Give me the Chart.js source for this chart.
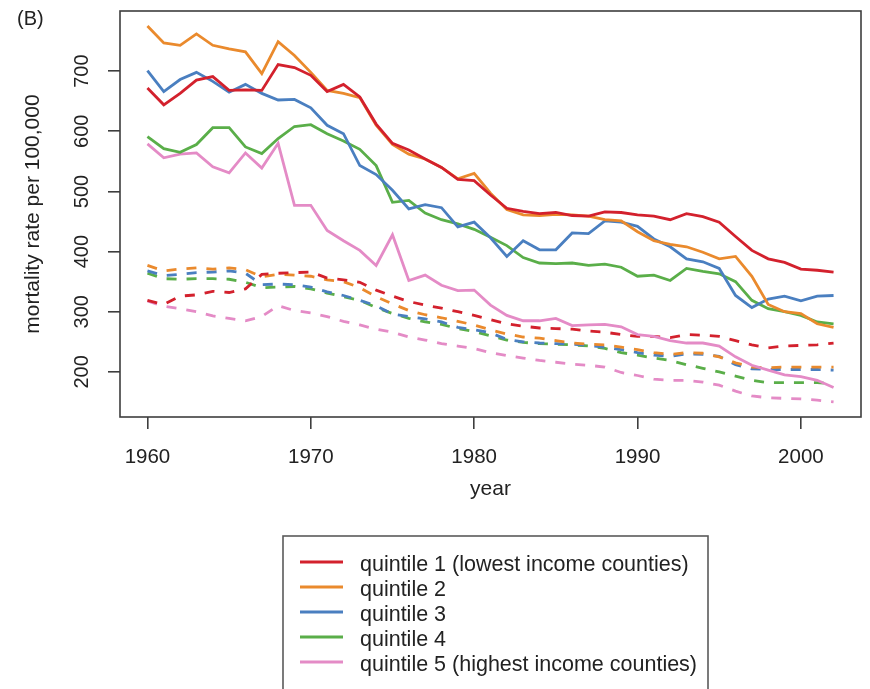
<!DOCTYPE html>
<html>
<head>
<meta charset="utf-8">
<script src="https://cdn.jsdelivr.net/npm/chart.js@4.4.1/dist/chart.umd.min.js"></script>
<style>
  html, body { margin: 0; padding: 0; background: #ffffff; }
  #wrap { width: 870px; height: 689px; position: relative; }
</style>
</head>
<body>
<div id="wrap"><canvas id="chart" width="870" height="689"></canvas></div>
<script>
// Years on the horizontal axis
const years = [1960, 1961, 1962, 1963, 1964, 1965, 1966, 1967, 1968, 1969,
               1970, 1971, 1972, 1973, 1974, 1975, 1976, 1977, 1978, 1979,
               1980, 1981, 1982, 1983, 1984, 1985, 1986, 1987, 1988, 1989,
               1990, 1991, 1992, 1993, 1994, 1995, 1996, 1997, 1998, 1999,
               2000, 2001, 2002];

// Solid lines: mortality rate per 100,000 by county income quintile
const q1Solid = [672, 644, 663, 685, 691, 668, 669, 668, 711, 706,
                 693, 666, 678, 657, 612, 580, 569, 554, 540, 520,
                 518, 494, 472, 467, 463, 465, 460, 459, 466, 465,
                 461, 459, 453, 463, 458, 449, 425, 402, 388, 382,
                 371, 369, 366];
const q2Solid = [775, 747, 743, 762, 743, 737, 732, 696, 749, 726,
                 698, 668, 663, 656, 610, 578, 562, 554, 540, 521,
                 530, 497, 470, 461, 460, 462, 461, 459, 453, 451,
                 433, 418, 412, 408, 399, 388, 392, 359, 312, 300,
                 297, 280, 274];
const q3Solid = [701, 666, 686, 698, 683, 665, 678, 663, 652, 653,
                 639, 610, 596, 543, 528, 502, 471, 478, 473, 441,
                 449, 423, 392, 418, 403, 403, 431, 430, 451, 449,
                 442, 421, 408, 388, 383, 372, 327, 307, 321, 326,
                 318, 326, 327];
const q4Solid = [591, 571, 565, 578, 606, 606, 574, 563, 588, 608,
                 611, 596, 584, 570, 543, 482, 485, 464, 453, 446,
                 437, 424, 410, 390, 381, 380, 381, 377, 379, 374,
                 359, 361, 352, 372, 367, 363, 350, 319, 305, 300,
                 294, 283, 280];
const q5Solid = [579, 556, 562, 564, 541, 531, 564, 539, 580, 477,
                 477, 435, 418, 402, 377, 428, 352, 361, 344, 335,
                 336, 311, 294, 285, 285, 289, 277, 278, 279, 275,
                 262, 259, 252, 248, 248, 243, 225, 211, 203, 195,
                 192, 186, 174];

// Dashed lines: second rate series for the same quintiles
const q1Dashed = [319, 312, 326, 328, 334, 332, 338, 362, 364, 365,
                  366, 356, 353, 349, 336, 326, 317, 311, 306, 300,
                  294, 287, 280, 276, 273, 272, 271, 268, 266, 262,
                  259, 259, 257, 262, 261, 259, 252, 245, 240, 243,
                  244, 245, 248];
const q2Dashed = [377, 368, 371, 373, 371, 373, 370, 358, 362, 361,
                  359, 353, 350, 340, 325, 313, 302, 295, 290, 284,
                  278, 270, 263, 258, 256, 252, 248, 246, 245, 241,
                  237, 232, 229, 232, 231, 225, 215, 208, 207, 208,
                  208, 208, 208];
const q3Dashed = [368, 360, 362, 365, 366, 368, 364, 345, 346, 345,
                  341, 333, 327, 319, 310, 296, 292, 288, 283, 274,
                  270, 265, 254, 250, 248, 247, 246, 244, 241, 237,
                  232, 228, 226, 230, 229, 226, 212, 205, 204, 204,
                  204, 204, 203];
const q4Dashed = [364, 355, 354, 355, 355, 354, 349, 340, 341, 342,
                  338, 331, 325, 319, 307, 297, 289, 283, 279, 272,
                  267, 260, 253, 249, 247, 246, 245, 243, 239, 232,
                  228, 223, 219, 212, 206, 200, 193, 186, 182, 182,
                  182, 182, 180];
const q5Dashed = [318, 309, 305, 300, 293, 289, 285, 292, 310, 302,
                  298, 292, 284, 278, 271, 266, 258, 253, 247, 243,
                  239, 232, 227, 223, 219, 216, 213, 211, 208, 199,
                  194, 188, 186, 186, 183, 178, 168, 160, 157, 156,
                  155, 153, 150];

// Axis ticks and legend text
const xTicks = [1960, 1970, 1980, 1990, 2000];
const yTicks = [200, 300, 400, 500, 600, 700];
const quintileLabels = [
  'quintile 1 (lowest income counties)',
  'quintile 2',
  'quintile 3',
  'quintile 4',
  'quintile 5 (highest income counties)'
];

const palette = ['#d3212d', '#ea8a2d', '#4a7fc0', '#5aae49', '#e48bc6'];
const solidSeries = [q1Solid, q2Solid, q3Solid, q4Solid, q5Solid];
const dashedSeries = [q1Dashed, q2Dashed, q3Dashed, q4Dashed, q5Dashed];

const FONT = '"Liberation Sans", Arial, Helvetica, sans-serif';
const INK = '#222222';
const FRAME = '#3e3e3e';

const toPoints = vals => vals.map((v, i) => ({ x: years[i], y: v }));

// Solid series first so they sit on top of the dashed ones
const datasets = [];
solidSeries.forEach((vals, i) => {
  datasets.push({
    label: quintileLabels[i],
    legendLabel: quintileLabels[i],
    data: toPoints(vals),
    borderColor: palette[i],
    borderWidth: 2.8,
    pointRadius: 0,
    tension: 0,
    fill: false
  });
});
dashedSeries.forEach((vals, i) => {
  datasets.push({
    label: quintileLabels[i] + ' (dashed)',
    data: toPoints(vals),
    borderColor: palette[i],
    borderWidth: 2.8,
    borderDash: [10, 10],
    pointRadius: 0,
    tension: 0,
    fill: false
  });
});

// Full box around the plotting region, panel tag and the boxed legend
const decorations = {
  id: 'decorations',
  afterDraw(chart, args, opts) {
    const { ctx, chartArea: a } = chart;
    ctx.save();
    ctx.strokeStyle = FRAME;
    ctx.lineWidth = 1.6;
    ctx.strokeRect(a.left, a.top, a.right - a.left, a.bottom - a.top);

    ctx.fillStyle = INK;
    ctx.font = '20px ' + FONT;
    ctx.textBaseline = 'alphabetic';
    ctx.textAlign = 'left';
    ctx.fillText('(B)', 17, 25);

    const L = opts.legend;
    ctx.strokeStyle = '#5a5a5a';
    ctx.lineWidth = 1.6;
    ctx.strokeRect(L.left, L.top, L.width, L.height);
    ctx.font = L.fontSize + 'px ' + FONT;
    ctx.textBaseline = 'middle';
    chart.data.datasets.filter(d => d.legendLabel).forEach((d, i) => {
      const y = L.firstRow + i * L.rowGap;
      ctx.strokeStyle = d.borderColor;
      ctx.lineWidth = 3;
      ctx.setLineDash([]);
      ctx.beginPath();
      ctx.moveTo(L.lineStart, y);
      ctx.lineTo(L.lineEnd, y);
      ctx.stroke();
      ctx.fillStyle = INK;
      ctx.fillText(d.legendLabel, L.textX, y + 3);
    });
    ctx.restore();
  }
};

new Chart(document.getElementById('chart'), {
  type: 'line',
  data: { datasets },
  plugins: [decorations],
  options: {
    responsive: false,
    animation: false,
    devicePixelRatio: 1,
    layout: { padding: { left: 0, top: 11, right: 9, bottom: 185 } },
    plugins: {
      legend: { display: false },
      tooltip: { enabled: false },
      decorations: {
        legend: {
          left: 283, top: 536, width: 425, height: 200,
          firstRow: 562, rowGap: 25,
          lineStart: 300, lineEnd: 343, textX: 360,
          fontSize: 21.5
        }
      }
    },
    scales: {
      x: {
        type: 'linear',
        min: 1958.32,
        max: 2003.68,
        afterBuildTicks: s => { s.ticks = xTicks.map(v => ({ value: v })); },
        afterFit: s => { s.height = 87; s.paddingLeft = 0; s.paddingRight = 0; },
        grid: { display: true, drawOnChartArea: false, drawTicks: true, tickLength: 12, color: FRAME, lineWidth: 1.6 },
        border: { display: false },
        ticks: {
          autoSkip: false, maxRotation: 0, padding: 16,
          color: INK, font: { family: FONT, size: 20.5 },
          callback: v => String(v)
        },
        title: { display: true, text: 'year', color: INK, font: { family: FONT, size: 21 }, padding: { top: 0, bottom: 2 } }
      },
      y: {
        type: 'linear',
        min: 125,
        max: 800,
        afterBuildTicks: s => { s.ticks = yTicks.map(v => ({ value: v })); },
        afterFit: s => { s.width = 120; s.paddingTop = 0; s.paddingBottom = 0; },
        grid: { display: true, drawOnChartArea: false, drawTicks: true, tickLength: 12, color: FRAME, lineWidth: 1.6 },
        border: { display: false },
        ticks: {
          minRotation: 90, maxRotation: 90, crossAlign: 'center', padding: 9,
          color: INK, font: { family: FONT, size: 20 },
          callback: v => String(v)
        },
        title: { display: true, text: 'mortality rate per 100,000', color: INK, font: { family: FONT, size: 21 }, padding: { top: 20.5, bottom: 0 } }
      }
    }
  }
});
</script>
</body>
</html>
